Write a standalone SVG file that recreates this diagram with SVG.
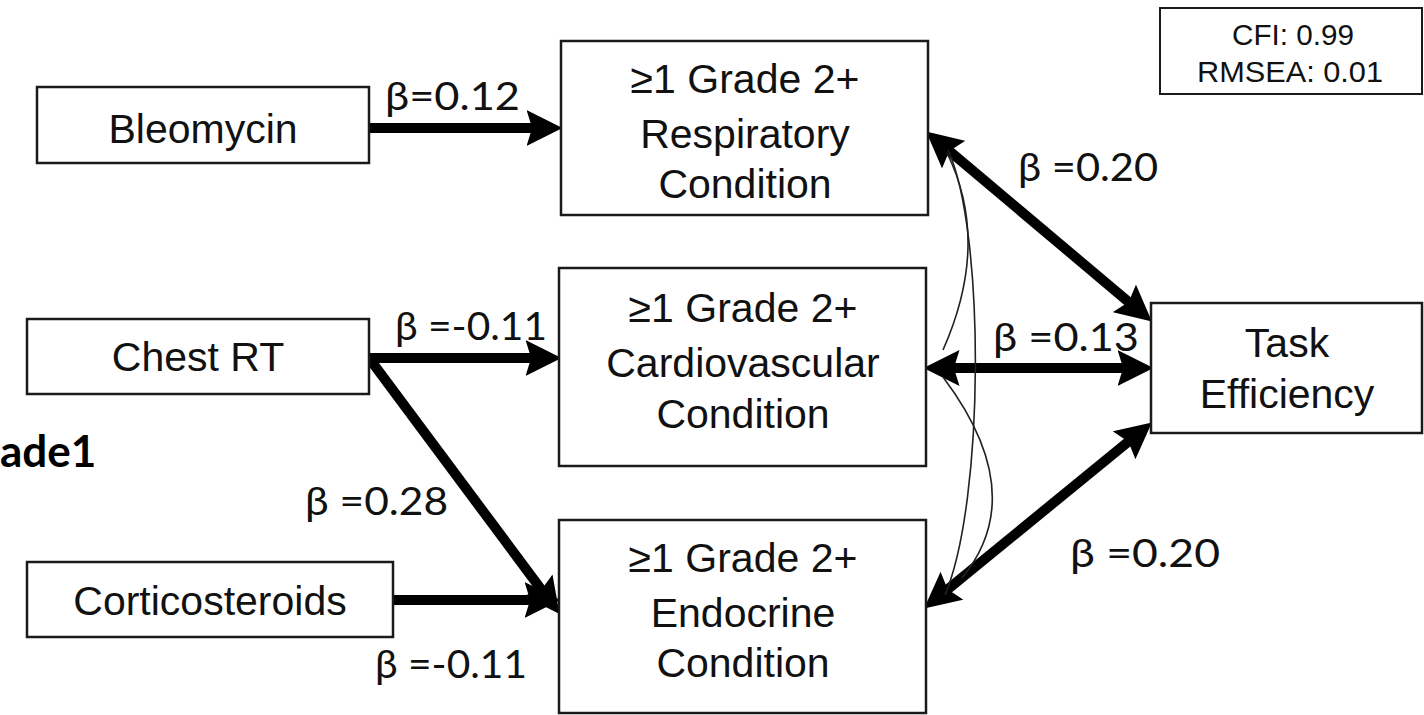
<svg xmlns="http://www.w3.org/2000/svg" width="1424" height="715" viewBox="0 0 1424 715">
<style>
.box{fill:#fff;stroke:#1a1a1a;stroke-width:2.5}
.nt{font-family:"Liberation Sans",Arial,sans-serif;font-size:41px;fill:#111;text-anchor:middle}
.fit{font-family:"Liberation Sans",Arial,sans-serif;font-size:30px;fill:#111;text-anchor:middle}
.lb{font-family:Lato,"Open Sans",sans-serif;font-size:38px;fill:#111}
.thick{stroke:#000;stroke-width:10;fill:none}
.thin{stroke:#222;stroke-width:1.6;fill:none}
</style>
<defs>
<marker id="ah" markerUnits="userSpaceOnUse" markerWidth="36" markerHeight="36" viewBox="0 0 32 32" refX="12" refY="16" orient="auto-start-reverse">
<path d="M0,0 L32,16 L0,32 L5,16 Z" fill="#000"/>
</marker>
</defs>
<g id="connectors">
<line class="thick" x1="369" y1="128" x2="540" y2="128" marker-end="url(#ah)"/>
<line class="thick" x1="369" y1="358" x2="539" y2="358" marker-end="url(#ah)"/>
<line class="thick" x1="369" y1="358" x2="546.1" y2="596" marker-end="url(#ah)"/>
<line class="thick" x1="393" y1="600" x2="538" y2="600" marker-end="url(#ah)"/>
<line class="thick" x1="943.3" y1="145.9" x2="1134.7" y2="307.1" marker-start="url(#ah)" marker-end="url(#ah)"/>
<line class="thick" x1="946" y1="368" x2="1131" y2="368" marker-start="url(#ah)" marker-end="url(#ah)"/>
<line class="thick" x1="941.5" y1="594.3" x2="1134.5" y2="436.7" marker-start="url(#ah)" marker-end="url(#ah)"/>
<path class="thin" d="M947,153 Q991,242 943,350"/>
<path class="thin" d="M948,150 C985,230 985,500 945,595"/>
<path class="thin" d="M943,377 Q1031,494 962,578"/>
</g>
<g id="bleomycin"><rect class="box" x="37" y="87" width="332" height="76"/><text class="nt" x="203" y="143">Bleomycin</text></g>
<g id="chestrt"><rect class="box" x="27" y="319" width="342" height="75"/><text class="nt" x="198" y="371">Chest RT</text></g>
<g id="corticosteroids"><rect class="box" x="27" y="562" width="366" height="75"/><text class="nt" x="210" y="615">Corticosteroids</text></g>
<g id="respiratory"><rect class="box" x="561" y="41" width="367" height="174"/><text class="nt" x="745" y="93">≥1 Grade 2+</text><text class="nt" x="745" y="148">Respiratory</text><text class="nt" x="745" y="198">Condition</text></g>
<g id="cardiovascular"><rect class="box" x="559" y="268" width="367" height="198"/><text class="nt" x="743" y="322">≥1 Grade 2+</text><text class="nt" x="743" y="377">Cardiovascular</text><text class="nt" x="743" y="428">Condition</text></g>
<g id="endocrine"><rect class="box" x="559" y="520" width="367" height="193"/><text class="nt" x="743" y="572">≥1 Grade 2+</text><text class="nt" x="743" y="627">Endocrine</text><text class="nt" x="743" y="677">Condition</text></g>
<g id="task"><rect class="box" x="1151" y="303" width="271" height="130"/><text class="nt" x="1287" y="357">Task</text><text class="nt" x="1287" y="408">Efficiency</text></g>
<g id="fit"><rect x="1160" y="8" width="262" height="86" fill="#fff" stroke="#1a1a1a" stroke-width="2"/><text class="fit" x="1293" y="45" textLength="122" lengthAdjust="spacingAndGlyphs">CFI: 0.99</text><text class="fit" x="1290" y="82" textLength="186" lengthAdjust="spacingAndGlyphs">RMSEA: 0.01</text></g>
<g id="labels">
<text class="lb" x="385" y="110" textLength="135" lengthAdjust="spacingAndGlyphs">β=0.12</text>
<text class="lb" x="395" y="340" textLength="152" lengthAdjust="spacingAndGlyphs">β =-0.11</text>
<text class="lb" x="305" y="515" textLength="143" lengthAdjust="spacingAndGlyphs">β =0.28</text>
<text class="lb" x="375" y="678" textLength="152" lengthAdjust="spacingAndGlyphs">β =-0.11</text>
<text class="lb" x="1018" y="181" textLength="140" lengthAdjust="spacingAndGlyphs">β =0.20</text>
<text class="lb" x="993" y="351" textLength="146" lengthAdjust="spacingAndGlyphs">β =0.13</text>
<text class="lb" x="1070" y="567" textLength="150" lengthAdjust="spacingAndGlyphs">β =0.20</text>
<text x="0" y="467" font-family="Lato,'Open Sans',sans-serif" font-weight="bold" font-size="44" fill="#000">ade1</text>
</g>
</svg>
